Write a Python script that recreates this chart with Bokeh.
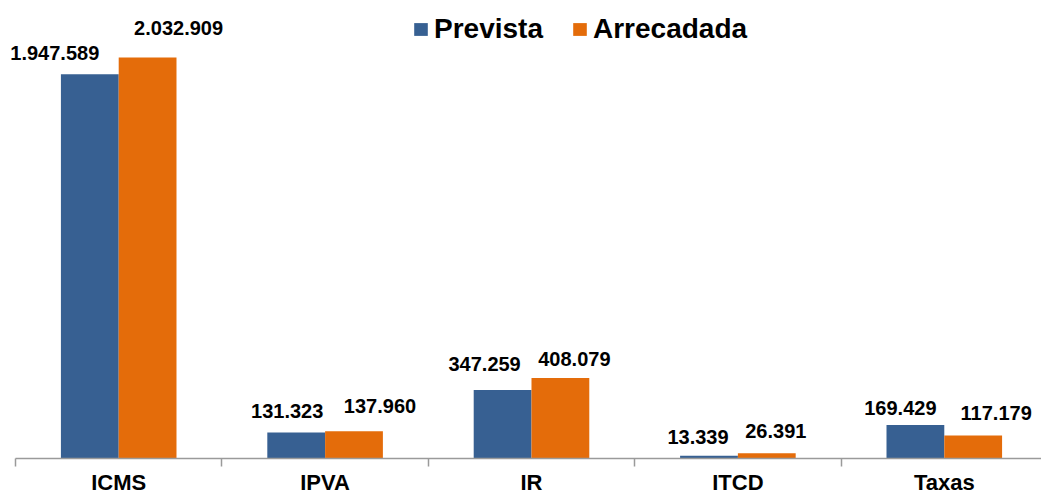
from bokeh.plotting import figure
from bokeh.models import Range1d, FixedTicker, ColumnDataSource, Legend, LegendItem
from bokeh.transform import dodge
from bokeh.core.properties import value
from bokeh.embed import file_html
from bokeh.resources import INLINE

categories = ["ICMS", "IPVA", "IR", "ITCD", "Taxas"]
prevista = [1947589, 131323, 347259, 13339, 169429]
arrecadada = [2032909, 137960, 408079, 26391, 117179]

# label nudges in screen pixels (style only)
prev_dx = [-35, -9, -18, -11, -15]
prev_dy = [21, 22, 26, 19, 17]
arr_dx = [31, 26, 14, 9, 23]
arr_dy = [29, 25, 19, 22, 22]

BLUE = "#376092"
ORANGE = "#E46C0A"
FONT = "Liberation Sans"


def fmt(v):
    return f"{v:,}".replace(",", ".")


pos = [i + 0.5 for i in range(len(categories))]
src = ColumnDataSource(dict(
    pos=pos,
    prev=prevista,
    arr=arrecadada,
    prev_lbl=[fmt(v) for v in prevista],
    arr_lbl=[fmt(v) for v in arrecadada],
    prev_dx=prev_dx,
    prev_yo=[-d for d in prev_dy],
    arr_dx=arr_dx,
    arr_yo=[-d for d in arr_dy],
))

p = figure(width=1041, height=497, output_backend="svg", toolbar_location=None,
           x_range=Range1d(-0.0727, 4.971), y_range=Range1d(0, 2321200),
           min_border_left=0, min_border_right=0, min_border_top=0, min_border_bottom=38)
p.outline_line_color = None
p.grid.visible = False
p.yaxis.visible = False
p.background_fill_color = "white"
p.border_fill_color = "white"

bw = 0.28
r1 = p.vbar(x=dodge("pos", -bw / 2, range=p.x_range), top="prev", width=bw, source=src,
            fill_color=BLUE, line_color=None)
r2 = p.vbar(x=dodge("pos", bw / 2, range=p.x_range), top="arr", width=bw, source=src,
            fill_color=ORANGE, line_color=None)

common = dict(text_align="center", text_baseline="middle", text_font=value(FONT),
              text_font_style="bold", text_font_size="20px", text_color="#000000", source=src)
p.text(x=dodge("pos", -bw / 2, range=p.x_range), y="prev", text="prev_lbl",
       x_offset="prev_dx", y_offset="prev_yo", **common)
p.text(x=dodge("pos", bw / 2, range=p.x_range), y="arr", text="arr_lbl",
       x_offset="arr_dx", y_offset="arr_yo", **common)

ax = p.xaxis[0]
ax.bounds = (0, len(categories))
ax.ticker = FixedTicker(ticks=pos, minor_ticks=list(range(len(categories) + 1)))
ax.major_label_overrides = {pv: c for pv, c in zip(pos, categories)}
ax.major_tick_out = 0
ax.major_tick_in = 0
ax.minor_tick_out = 8
ax.minor_tick_in = 0
ax.minor_tick_line_color = "#9a9a9a"
ax.minor_tick_line_width = 1.5
ax.axis_line_color = "#9a9a9a"
ax.axis_line_width = 1.5
ax.major_label_standoff = 3
ax.major_label_text_font = FONT
ax.major_label_text_font_style = "bold"
ax.major_label_text_font_size = "22px"
ax.major_label_text_color = "#000000"

legend = Legend(items=[LegendItem(label="Prevista", renderers=[r1]),
                       LegendItem(label="Arrecadada", renderers=[r2])],
                orientation="horizontal", location=(412, 413),
                padding=0, margin=0, spacing=28, label_standoff=5,
                glyph_width=17, glyph_height=16,
                label_text_font=FONT, label_text_font_style="bold",
                label_text_font_size="28px", label_text_color="#000000",
                border_line_color=None, background_fill_alpha=0)
p.add_layout(legend)

open("out.html", "w").write(file_html(p, INLINE))
